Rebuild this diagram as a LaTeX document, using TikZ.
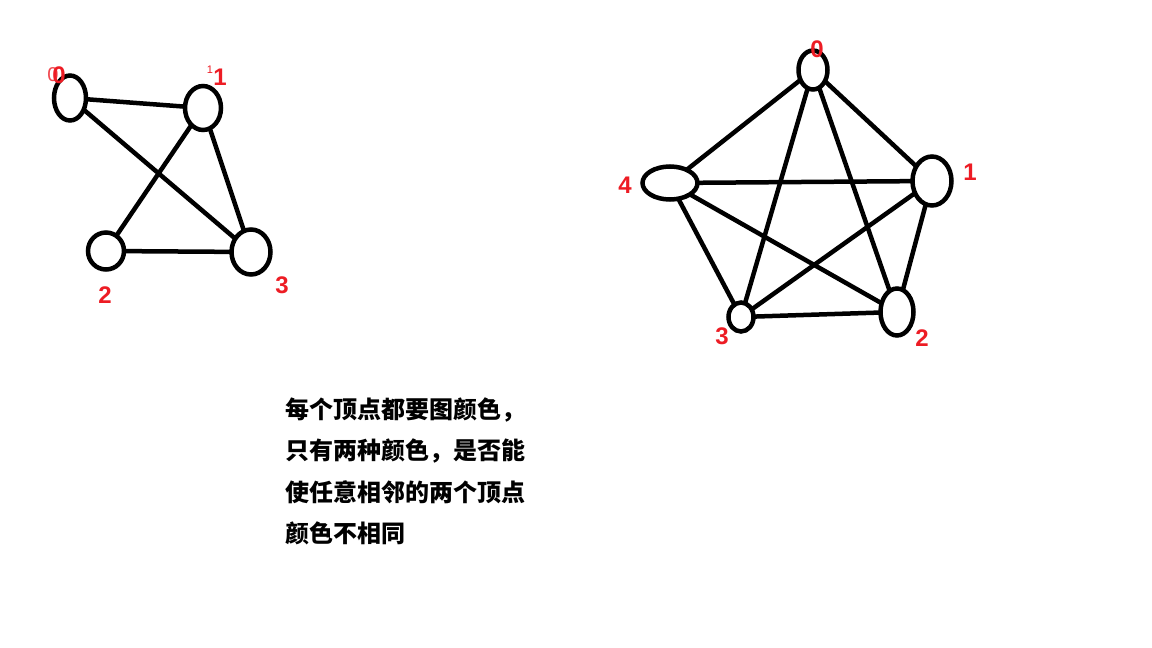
\documentclass[tikz,border=0pt]{standalone}
\usepackage{fontspec}
\usepackage{tikz}
\usetikzlibrary{shapes.geometric}
\newfontfamily\numfont{Liberation Sans}
\newfontfamily\cjk{Noto Sans CJK SC}
\definecolor{numred}{RGB}{237,28,36}
\tikzset{v/.style={draw,ellipse,line width=4.5pt,inner sep=0pt}}
\tikzset{e/.style={line width=4.5pt,shorten <=-3pt,shorten >=-3pt}}
\tikzset{n/.style={text=numred,inner sep=0pt,font=\numfont\bfseries\fontsize{24}{24}\selectfont}}
\tikzset{t/.style={anchor=west,inner sep=0pt,font=\cjk\bfseries\fontsize{24}{24}\selectfont}}

\begin{document}
\begin{tikzpicture}[x=1pt,y=-1pt]
          \useasboundingbox[fill=white] (0,0) rectangle (1152,648);
          % small graph
          \node[v,minimum width=32,minimum height=45] (A0) at (70,98) {};
          \node[v,minimum width=36,minimum height=44] (A1) at (203,108) {}
            edge [e] (A0);
          \node[v,minimum width=36,minimum height=37] (A2) at (106,251) {}
            edge [e] (A1);
          \node[v,minimum width=39,minimum height=45] (A3) at (251,252) {}
            edge [e] (A0)
            edge [e] (A1)
            edge [e] (A2);
          \node[n,font=\numfont\fontsize{20}{20}\selectfont,text=numred!80] at (53,75) {0};
          \node[n] (LA0) at (59,75) {0};
          \node[n,font=\numfont\fontsize{11}{11}\selectfont] at (210,70) {1};
          \node[n] (LA1) at (220,77) {1};
          \node[n] (LA2) at (105,295) {2};
          \node[n] (LA3) at (282,285) {3};
          % big graph
          \node[v,minimum width=29,minimum height=39] (B0) at (813,70) {};
          \node[v,minimum width=39,minimum height=49] (B1) at (932,181) {}
            edge [e] (B0);
          \node[v,minimum width=33,minimum height=47] (B2) at (897,312) {}
            edge [e] (B0)
            edge [e] (B1);
          \node[v,minimum width=25,minimum height=29] (B3) at (741,317) {}
            edge [e] (B0)
            edge [e] (B1)
            edge [e] (B2);
          \node[v,minimum width=55,minimum height=33] (B4) at (670,183) {}
            edge [e] (B0)
            edge [e] (B1)
            edge [e] (B2)
            edge [e] (B3);
          \node[n] (LB0) at (817,49) {0};
          \node[n] (LB1) at (970,172) {1};
          \node[n] (LB2) at (922,338) {2};
          \node[n] (LB3) at (722,336) {3};
          \node[n] (LB4) at (625,185) {4};
          % question
          \node[t] (T1) at (285,410) {每个顶点都要图颜色，};
          \node[t] (T2) at (285,451) {只有两种颜色，是否能};
          \node[t] (T3) at (285,492) {使任意相邻的两个顶点};
          \node[t] (T4) at (285,533) {颜色不相同};
        \end{tikzpicture}
\end{document}
